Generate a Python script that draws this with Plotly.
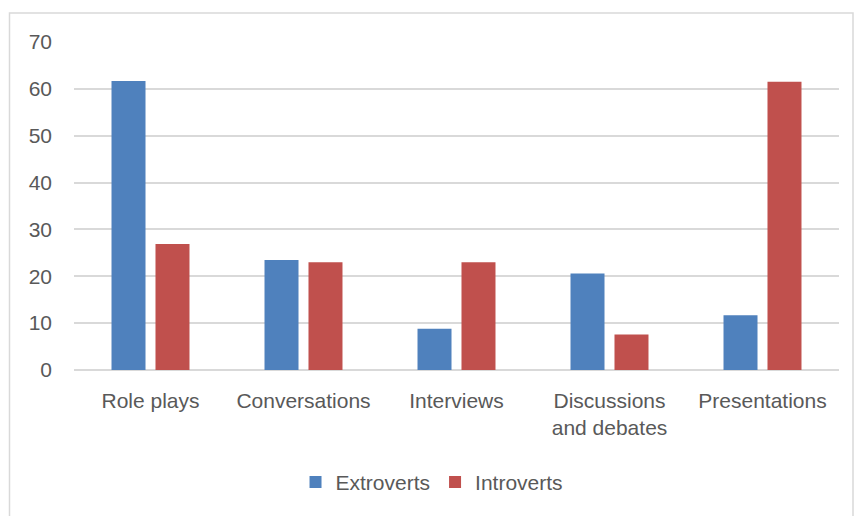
import plotly.graph_objects as go

categories = ["Role plays", "Conversations", "Interviews", "Discussions<br>and debates", "Presentations"]
extroverts = [61.7, 23.5, 8.8, 20.6, 11.7]
introverts = [26.9, 23.0, 23.0, 7.6, 61.5]
y_ticks = [0, 10, 20, 30, 40, 50, 60, 70]

text_color = "#595959"
font_family = "Liberation Sans, Arial, sans-serif"
font_size = 21

fig = go.Figure()
fig.add_trace(go.Bar(name="Extroverts", x=categories, y=extroverts,
                     marker=dict(color="#4F81BD", line=dict(width=0))))
fig.add_trace(go.Bar(name="Introverts", x=categories, y=introverts,
                     marker=dict(color="#C0504D", line=dict(width=0))))

fig.update_layout(
    width=854, height=516,
    margin=dict(l=74, r=15, t=42, b=146),
    paper_bgcolor="white", plot_bgcolor="white",
    barmode="group", bargap=0.425, bargroupgap=0.227,
    font=dict(family=font_family, size=font_size, color=text_color),
    showlegend=True,
    legend=dict(orientation="h", x=0.468, xanchor="center", y=-0.28, yanchor="top",
                font=dict(size=font_size, color=text_color), itemwidth=30,
                traceorder="normal"),
    xaxis=dict(showgrid=False, showline=False, ticks="", zeroline=False,
               ticklabelstandoff=16,
               tickfont=dict(size=font_size, color=text_color)),
    yaxis=dict(range=[0, 70], tickvals=y_ticks, showgrid=True, gridcolor="#D9D9D9",
               gridwidth=1.5, zeroline=True, zerolinecolor="#D9D9D9", zerolinewidth=1.5,
               showline=False, ticks="", ticklabelstandoff=21,
               tickfont=dict(size=font_size, color=text_color)),
    shapes=[dict(type="rect", xref="paper", yref="paper",
                 x0=(9.5 - 74) / 765, x1=(853 - 74) / 765,
                 y0=(370 - 530) / 328, y1=1 + (42 - 13) / 328,
                 line=dict(color="#D9D9D9", width=1.5), fillcolor="rgba(0,0,0,0)",
                 layer="below")],
)

fig.write_html("out.html")
